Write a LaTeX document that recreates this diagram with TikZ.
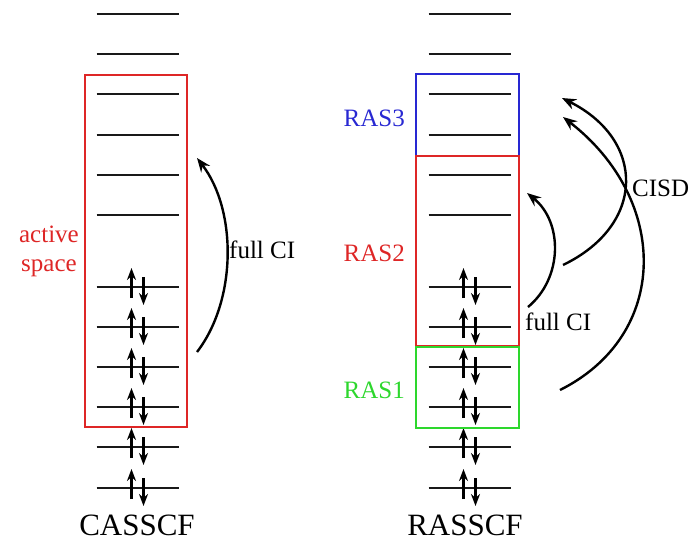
\documentclass[tikz,border=0pt]{standalone}
\usepackage{fontspec}
\setmainfont{Liberation Serif}
\usetikzlibrary{positioning,arrows.meta}
\definecolor{rasone}{RGB}{45,215,45}
\definecolor{rastwo}{RGB}{222,38,38}
\definecolor{rasthree}{RGB}{40,40,210}
\tikzset{
  orbital/.style={line width=2.5pt, black!90},
  spin/.style={-{Stealth[length=12pt,width=9pt]}, line width=2.4pt},
  spacebox/.style={draw=#1, line width=2.4pt, inner sep=0pt, outer sep=0pt},
  excite/.style={-{Stealth[length=14pt,width=11pt]}, line width=2.4pt},
  lbl/.style={font=\fontsize{25}{29}\selectfont, inner sep=0pt},
  title/.style={font=\fontsize{31}{36}\selectfont, inner sep=0pt, text depth=0pt},
}
\begin{document}
\begin{tikzpicture}[x=1pt,y=-1pt]
  \useasboundingbox (0,0) rectangle (694,542);

  % orbital levels and electron pairs
  \foreach \col/\xc in {cas/137.5, ras/469.5}{
    \foreach \n/\y in {1/14,2/54,3/94,4/135,5/175,6/215,7/287,8/327,9/367,10/407,11/447,12/488}{
      \coordinate (\col-\n) at (\xc,\y);
      \draw[orbital] ([xshift=-41pt]\col-\n) -- ([xshift=41pt]\col-\n);
    }
    \foreach \n in {7,...,12}{
      \draw[spin] ([shift={(-6,11)}]\col-\n) -- ++(0,-30);
      \draw[spin] ([shift={(6,-10)}]\col-\n) -- ++(0,28);
    }
  }

  % spaces
  \node[spacebox=rastwo, minimum width=102pt, minimum height=352pt] (active) at (136,251) {};
  \node[spacebox=rasthree, minimum width=103pt, minimum height=82pt] (r3) at (467.5,115) {};
  \node[spacebox=rastwo, minimum width=103pt, minimum height=190pt] (r2) at (467.5,251) {};
  \node[spacebox=rasone, minimum width=103pt, minimum height=81pt] (r1) at (467.5,387.5) {};

  \node[lbl, rastwo, align=center, left=6pt of active] (actlbl) {active\\space};
  \node[lbl, rasthree, left=11pt of r3, yshift=-3pt] (r3lbl) {RAS3};
  \node[lbl, rastwo, left=11pt of r2, yshift=-2pt] (r2lbl) {RAS2};
  \node[lbl, rasone, left=11pt of r1, yshift=-3pt] (r1lbl) {RAS1};

  % excitations
  \coordinate (fa) at (197,352);
  \coordinate (fb) at (197,158);
  \coordinate (ga) at (528,307);
  \coordinate (gb) at (527,193);
  \coordinate (ca) at (563,265);
  \coordinate (cb) at (562,98);
  \coordinate (da) at (560,390);
  \coordinate (db) at (563,117);
  \draw[excite] (fa) .. controls +(40,-52) and +(40,52) .. (fb);
  \draw[excite] (ga) .. controls +(35,-29) and +(36,29) .. (gb);
  \draw[excite] (ca) .. controls +(83,-40) and +(84,42) .. (cb);
  \draw[excite] (da) .. controls +(110,-55) and +(107,83) .. (db);

  \node[lbl, anchor=west] (fcil) at (229,250) {full CI};
  \node[lbl, anchor=west] (fcir) at (525,322) {full CI};
  \node[lbl, anchor=west] (cisd) at (632,188) {CISD};

  \node[title, anchor=base] (cas) at (137,535) {CASSCF};
  \node[title, anchor=base] (ras) at (465,535) {RASSCF};
\end{tikzpicture}
\end{document}
